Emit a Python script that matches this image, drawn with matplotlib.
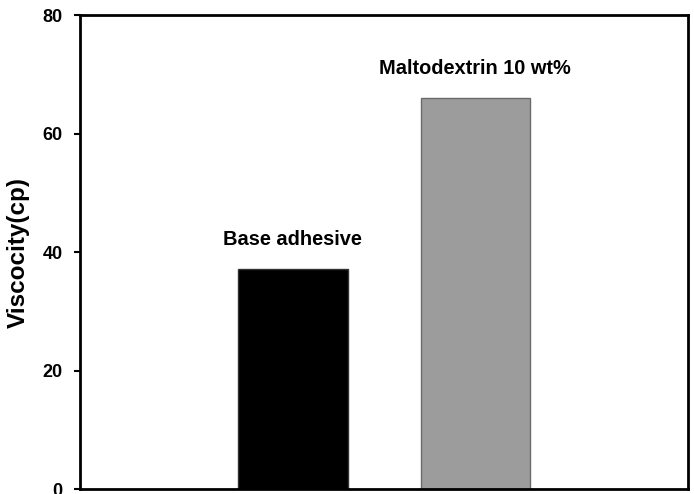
import matplotlib
matplotlib.use("Agg")
import matplotlib.pyplot as plt

# data
samples = ["Base adhesive", "Maltodextrin 10 wt%"]
viscosity = [37.1, 66.0]
bar_colors = ["#000000", "#9c9c9c"]
edge_colors = ["#333333", "#6a6a6a"]
yticks = [0, 20, 40, 60, 80]

plt.rcParams["font.family"] = ["Liberation Sans", "DejaVu Sans"]

fig = plt.figure(figsize=(6.94, 4.94), dpi=100)
ax = fig.add_axes([0.1153, 0.0101, 0.8761, 0.9595])

x = [1, 2]
ax.bar(x, viscosity, width=0.6, color=bar_colors, edgecolor=edge_colors, linewidth=1)

# sample names sit just above each bar
for xi, v, name in zip(x, viscosity, samples):
    ax.text(xi, v + 4.0, name, ha="center", va="baseline", fontsize=14.4, fontweight="bold")

ax.set_xlim(-0.1667, 3.1667)
ax.set_ylim(0, 80)
ax.set_xticks([])
ax.set_yticks(yticks)
ax.set_yticklabels([str(t) for t in yticks], fontsize=13, fontweight="bold")
ax.tick_params(axis="y", direction="out", length=4, width=1.5, pad=8.5)
ax.set_ylabel("Viscocity(cp)", fontsize=17.5, fontweight="bold", labelpad=9.5)

for s in ax.spines.values():
    s.set_linewidth(2)

fig.savefig("out.png", dpi=100)
